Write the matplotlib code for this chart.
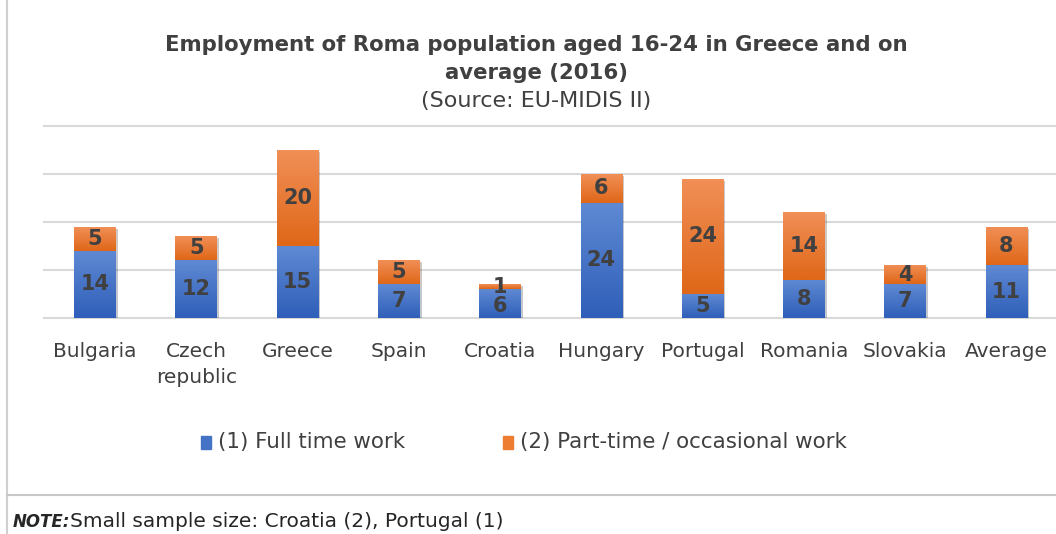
import matplotlib
matplotlib.use("Agg")
import matplotlib.pyplot as plt
import numpy as np
from matplotlib.colors import LinearSegmentedColormap
from matplotlib.patches import Rectangle
from matplotlib.lines import Line2D
import matplotlib.patheffects as pe

countries = ['Bulgaria', 'Czech\nrepublic', 'Greece', 'Spain', 'Croatia',
             'Hungary', 'Portugal', 'Romania', 'Slovakia', 'Average']
full_time = [14, 12, 15, 7, 6, 24, 5, 8, 7, 11]
part_time = [5, 5, 20, 5, 1, 6, 24, 14, 4, 8]

blue = '#4472C4'
orange = '#ED7D31'
blue_grad = LinearSegmentedColormap.from_list('b', ['#2F5FB9', '#5F89D3'])
orange_grad = LinearSegmentedColormap.from_list('o', ['#DF6718', '#F18F57'])
label_col = '#404040'

fig = plt.figure(figsize=(10.56, 5.34), dpi=100)
ax = fig.add_axes([0.042, 0.4045, 0.959, 0.3595])

x = np.arange(len(countries))
w = 0.41
shadow = [pe.SimplePatchShadow(offset=(1.5, -1.5), alpha=0.25), pe.Normal()]
b1 = ax.bar(x, full_time, w, color=blue, zorder=2, path_effects=shadow)
b2 = ax.bar(x, part_time, w, bottom=full_time, color=orange, zorder=2, path_effects=shadow)

# vertical gradient fill clipped to each bar segment
grad = np.linspace(0, 1, 64).reshape(-1, 1)
for bars, cmap in ((b1, blue_grad), (b2, orange_grad)):
    for p in bars:
        x0, y0 = p.get_x(), p.get_y()
        im = ax.imshow(grad, cmap=cmap, origin='lower', aspect='auto', zorder=3,
                       extent=(x0, x0 + p.get_width(), y0, y0 + p.get_height()))
        im.set_clip_path(p)

for i in range(len(x)):
    yb = full_time[i] / 2
    if part_time[i] < 2:
        yb -= 0.5  # thin top segment: push the lower label down a touch
    ax.text(x[i], yb, str(full_time[i]), ha='center', va='center',
            fontsize=15, fontweight='bold', color=label_col, zorder=4)
    ax.text(x[i], full_time[i] + part_time[i] / 2, str(part_time[i]), ha='center',
            va='center', fontsize=15, fontweight='bold', color=label_col, zorder=4)

ax.set_xlim(-0.5, len(x) - 0.5)
ax.set_ylim(0, 40)
ax.set_yticks([0, 10, 20, 30, 40])
ax.set_yticklabels([])
ax.yaxis.grid(True, color='#D9D9D9', lw=1.5)
for gl in ax.get_ygridlines():
    gl.set_clip_on(False)
ax.set_axisbelow(True)
for s in ax.spines.values():
    s.set_visible(False)
ax.tick_params(axis='y', length=0)
ax.set_xticks(x)
ax.set_xticklabels(countries, fontsize=14.5, color='#404040', linespacing=1.5)
ax.tick_params(axis='x', length=0, pad=17)

# title block
fig.text(0.508, 0.915, 'Employment of Roma population aged 16-24 in Greece and on',
         ha='center', va='center', fontsize=15.3, fontweight='bold', color='#404040')
fig.text(0.508, 0.863, 'average (2016)', ha='center', va='center',
         fontsize=15.3, fontweight='bold', color='#404040')
fig.text(0.508, 0.811, '(Source: EU-MIDIS II)', ha='center', va='center',
         fontsize=16, color='#404040')

# legend
leg = [(0.19, blue, '(1) Full time work'),
       (0.476, orange, '(2) Part-time / occasional work')]
for lx, c, t in leg:
    fig.patches.append(Rectangle((lx, 0.16), 0.0095, 0.023, color=c,
                                 transform=fig.transFigure, figure=fig))
    fig.text(lx + 0.0165, 0.172, t, ha='left', va='center', fontsize=15.4, color='#404040')

# frame lines around the chart
fig.add_artist(Line2D([0.0066, 0.0066], [0, 1], transform=fig.transFigure,
                      color='#D0D0D0', lw=1.5))
fig.add_artist(Line2D([0.0066, 1], [0.073, 0.073], transform=fig.transFigure,
                      color='#C8C8C8', lw=1.5))

fig.text(0.012, 0.023, 'NOTE:', ha='left', va='center', fontsize=12,
         fontweight='bold', fontstyle='italic', color='#262626')
fig.text(0.066, 0.023, 'Small sample size: Croatia (2), Portugal (1)', ha='left',
         va='center', fontsize=14.5, color='#262626')

fig.savefig('out.png', dpi=100)
